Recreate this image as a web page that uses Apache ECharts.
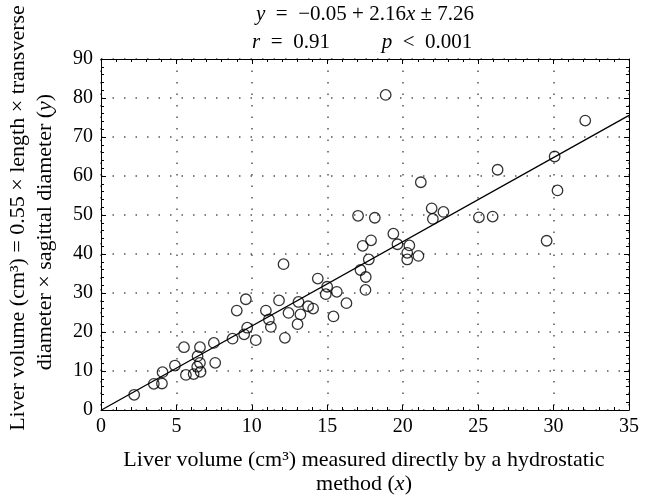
<!DOCTYPE html>
<html><head><meta charset="utf-8">
<script src="https://cdn.jsdelivr.net/npm/echarts@6/dist/echarts.min.js"></script>
<style>html,body{margin:0;padding:0;background:#fff}#c{width:650px;height:496px}</style>
</head><body><div id="c"></div>
<script>
const xValues = [2.2,3.5,4.04,4.08,4.9,5.5,5.63,6.14,6.56,6.4,6.56,6.38,6.6,7.48,7.57,8.72,9.0,9.49,9.6,9.69,10.26,10.93,11.13,11.26,11.8,12.1,12.19,12.43,13.03,13.09,13.22,13.73,14.06,14.37,14.9,14.99,15.41,15.63,16.27,17.04,17.2,17.35,17.53,17.55,17.75,17.9,18.15,18.87,19.38,19.65,20.3,20.3,20.44,21.04,21.2,21.92,22.0,22.7,25.05,25.96,26.29,29.54,30.07,30.26,32.1];
const yValues = [3.9,6.7,6.8,9.7,11.4,16.1,9.0,9.2,16.1,13.8,12.1,11.1,9.8,17.2,12.1,18.3,25.5,19.4,28.4,21.1,17.9,25.5,23.2,21.3,28.1,37.4,18.5,24.9,22.0,27.7,24.5,26.6,26.0,33.7,29.7,31.6,24.0,30.3,27.4,49.8,35.9,42.1,30.8,34.1,38.6,43.5,49.3,80.8,45.2,42.5,40.3,38.6,42.2,39.5,58.4,51.7,49.0,50.8,49.4,49.6,61.6,43.4,65.0,56.3,74.2];
const fitX = [0, 35];
const fitY = [-0.05, 75.55];
const xTicks = [0,5,10,15,20,25,30,35];
const yTicks = [0,10,20,30,40,50,60,70,80,90];

const FONT = '"Liberation Serif", "DejaVu Serif", serif';
const FS = 20;   // tick labels
const FA = 22;   // axis titles
const FT = 21;   // top annotation
const chart = echarts.init(document.getElementById('c'), null, {renderer:'canvas'});
const points = xValues.map((x,i)=>[x,yValues[i]]);
const fitLine = fitX.map((x,i)=>[x,fitY[i]]);
const ital = (s)=>({i:{fontStyle:'italic', fontFamily:FONT, fontSize:s}});

const baseAxis = {
  min: 0,
  axisLine: {show:true, onZero:false, lineStyle:{color:'#000', width:1}},
  axisTick: {show:true, inside:true, length:5, lineStyle:{color:'#000'}},
  minorTick: {show:true, splitNumber:5, length:3, lineStyle:{color:'#000'}},
  splitLine: {show:false},
  axisLabel: {show:false}
};
const option = {
  animation:false,
  backgroundColor:'#fff',
  grid:{left:101, right:21, top:59, bottom:86, show:false},
  xAxis:[
    Object.assign({}, baseAxis, {type:'value', position:'bottom', max:35, interval:5,
      axisLabel:{show:true, color:'#000', fontFamily:FONT, fontSize:FS, margin:7,
        formatter:(v)=> xTicks.includes(v)? String(v): ''},
      splitLine:{show:true, lineStyle:{color:'#555', type:[1.5,10], width:1.5}}}),
    Object.assign({}, baseAxis, {type:'value', position:'top', max:35, interval:5})
  ],
  yAxis:[
    Object.assign({}, baseAxis, {type:'value', position:'left', max:90, interval:10,
      axisLabel:{show:true, color:'#000', fontFamily:FONT, fontSize:FS, margin:8,
        formatter:(v)=> yTicks.includes(v)? String(v): ''},
      splitLine:{show:true, lineStyle:{color:'#555', type:[1.5,10], width:1.5}}}),
    Object.assign({}, baseAxis, {type:'value', position:'right', max:90, interval:10})
  ],
  series:[
    {type:'scatter', data:points, symbol:'circle', symbolSize:10.5, z:3,
      itemStyle:{color:'rgba(255,255,255,0)', borderColor:'#000', borderWidth:1.3}},
    {type:'line', data:fitLine, symbol:'none', z:4,
      lineStyle:{color:'#000', width:1.3}}
  ],
  graphic:[
    {type:'text', x:365, y:14, style:{
      text:'{i|y}  =  −0.05 + 2.16{i|x} ± 7.26', font:FT+'px '+FONT, fill:'#000',
      align:'center', verticalAlign:'middle', rich:ital(FT)}},
    {type:'text', x:291, y:42, style:{
      text:'{i|r}  =  0.91', font:FT+'px '+FONT, fill:'#000', align:'center', verticalAlign:'middle', rich:ital(FT)}},
    {type:'text', x:427, y:42, style:{
      text:'{i|p}  <  0.001', font:FT+'px '+FONT, fill:'#000', align:'center', verticalAlign:'middle', rich:ital(FT)}},
    {type:'text', x:364, y:460, style:{
      text:'Liver volume (cm³) measured directly by a hydrostatic', font:FA+'px '+FONT, fill:'#000',
      align:'center', verticalAlign:'middle'}},
    {type:'text', x:364, y:484, style:{
      text:'method ({i|x})', font:FA+'px '+FONT, fill:'#000', align:'center', verticalAlign:'middle', rich:ital(FA)}},
    {type:'text', x:18, y:218, rotation:Math.PI/2, style:{
      text:'Liver volume (cm³) = 0.55 × length × transverse', font:FA+'px '+FONT, fill:'#000',
      align:'center', verticalAlign:'middle'}},
    {type:'text', x:45, y:232, rotation:Math.PI/2, style:{
      text:'diameter × sagittal diameter ({i|y})', font:FA+'px '+FONT, fill:'#000',
      align:'center', verticalAlign:'middle', rich:ital(FA)}}
  ]
};
chart.setOption(option);
</script>
</body></html>
